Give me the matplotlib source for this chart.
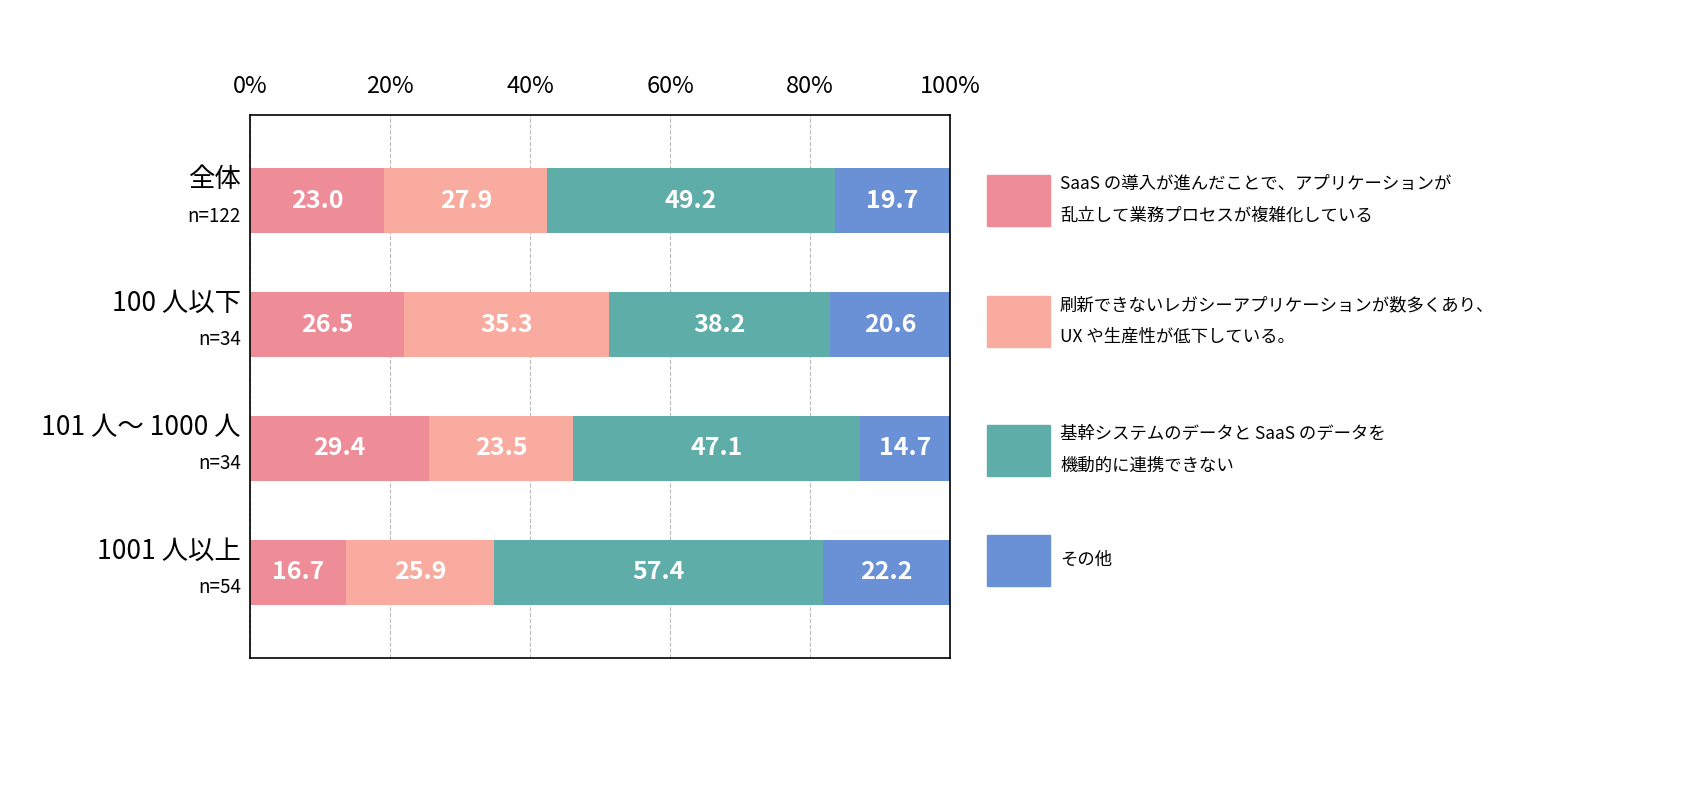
import matplotlib
matplotlib.use('Agg')
import matplotlib.pyplot as plt
import matplotlib.patches as mpatches
import numpy as np

plt.rcParams['font.family'] = ['Noto Sans CJK JP', 'DejaVu Sans']

groups = ['全体', '100 人以下', '101 人～ 1000 人', '1001 人以上']
counts = ['n=122', 'n=34', 'n=34', 'n=54']
series = [
    'SaaS の導入が進んだことで、アプリケーションが\n乱立して業務プロセスが複雑化している',
    '刷新できないレガシーアプリケーションが数多くあり、\nUX や生産性が低下している。',
    '基幹システムのデータと SaaS のデータを\n機動的に連携できない',
    'その他',
]
s1 = [23.0, 26.5, 29.4, 16.7]
s2 = [27.9, 35.3, 23.5, 25.9]
s3 = [49.2, 38.2, 47.1, 57.4]
s4 = [19.7, 20.6, 14.7, 22.2]
colors = ['#EE8C98', '#F9ABA0', '#5EADA8', '#6A90D6']

W, H = 1685, 795
fig = plt.figure(figsize=(W / 100, H / 100), dpi=100)
ax = fig.add_axes([250 / W, 1 - 658 / H, 700 / W, 543 / H])

vals = np.array([s1, s2, s3, s4])
totals = vals.sum(axis=0)
y = np.arange(len(groups))
left = np.zeros(len(groups))
for k in range(4):
    w = vals[k] / totals * 100
    ax.barh(y, w, left=left, height=0.52, color=colors[k])
    for i in range(len(groups)):
        ax.text(left[i] + w[i] / 2, y[i], f'{vals[k][i]:.1f}', ha='center', va='center',
                color='white', fontsize=18, fontweight='bold')
    left += w

ax.set_xlim(0, 100)
ax.set_ylim(3.69, -0.69)
ax.xaxis.tick_top()
ax.set_xticks(range(0, 101, 20))
ax.set_xticklabels([f'{v}%' for v in range(0, 101, 20)], fontsize=17)
ax.tick_params(axis='x', length=0, pad=12)
ax.set_yticks([])
ax.grid(axis='x', color='#BBBBBB', linestyle='--', linewidth=0.8)
ax.set_axisbelow(True)
for sp in ax.spines.values():
    sp.set_color('black')
    sp.set_linewidth(1.2)

for i in range(len(groups)):
    ax.text(-1.3, y[i] - 0.06, groups[i], ha='right', va='bottom', fontsize=19)
    ax.text(-1.3, y[i] + 0.04, counts[i], ha='right', va='top', fontsize=13.5)

ly = [200, 321, 450, 560]
for k in range(4):
    top = ly[k] - 25
    fig.patches.append(mpatches.Rectangle((987 / W, 1 - (top + 51) / H), 63 / W, 51 / H,
                                          transform=fig.transFigure, color=colors[k]))
    fig.text(1060 / W, 1 - ly[k] / H, series[k], ha='left', va='center', fontsize=12.5,
             linespacing=2.0)

fig.savefig('out.png', dpi=100)
